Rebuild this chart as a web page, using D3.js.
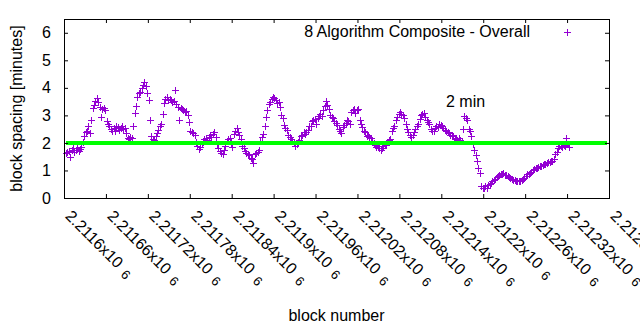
<!DOCTYPE html>
<html lang="en">
<head>
    <meta charset="utf-8" />
    <title>Block Spacing</title>
    <script src="https://d3js.org/d3.v7.min.js"></script>
    <style>
        body {
            margin: 0;
            background-color: white;
        }
        /* Text font, color, size */
        text {
            font-family: 'Liberation Sans', Arial, sans-serif;
            font-size: 16px;
            fill: black;
        }
    </style>
</head>
<body>
    <script>

        // Block numbers of the samples: first block and step between samples
        const firstBlock = 2211603;
        const blockStep = 2;

        // Average block spacing in minutes, one value per sample
        const spacing = [
            1.62, 1.66, 1.72, 1.48, 1.74, 1.80, 1.68, 1.75, 1.80, 1.72, 1.78, 1.85, 2.02, 2.25, 2.40,
            2.45, 2.60, 2.35, 2.85, 3.28, 3.38, 3.52, 3.62, 3.48, 3.32, 2.95, 3.22, 3.28, 3.18, 2.80,
            2.70, 2.62, 2.50, 2.42, 2.55, 2.45, 2.62, 2.58, 2.48, 2.55, 2.62, 2.50, 2.55, 2.35, 2.18,
            2.15, 2.22, 2.18, 2.62, 3.10, 3.35, 3.65, 3.80, 3.85, 4.00, 4.12, 4.22, 4.05, 3.80, 3.55,
            2.85, 2.25, 2.15, 2.12, 2.25, 2.35, 2.48, 2.62, 2.70, 3.05, 3.45, 3.58, 3.65, 3.55, 3.60,
            3.55, 3.48, 3.52, 3.92, 3.40, 3.32, 2.85, 3.28, 3.25, 3.18, 3.12, 3.15, 3.00, 2.75, 2.45,
            2.40, 2.35, 2.30, 2.05, 1.90, 1.78, 1.85, 1.95, 2.05, 2.15, 2.18, 2.10, 2.22, 2.28, 2.20,
            2.32, 2.40, 2.22, 1.95, 1.82, 1.70, 1.62, 1.58, 1.75, 1.90, 2.08, 2.15, 2.18, 2.00, 1.85,
            2.32, 2.45, 2.55, 2.40, 2.30, 2.15, 1.90, 1.80, 1.72, 1.65, 1.60, 1.55, 1.45, 1.40, 1.27,
            1.60, 1.65, 1.68, 1.75, 2.08, 2.20, 2.32, 2.62, 2.95, 3.20, 3.40, 3.50, 3.58, 3.65, 3.62,
            3.55, 3.45, 3.50, 3.30, 3.00, 2.90, 2.65, 2.55, 2.48, 2.30, 2.20, 2.15, 2.08, 1.98, 1.90,
            1.95, 2.05, 2.12, 2.25, 2.30, 2.38, 2.32, 2.40, 2.48, 2.60, 2.62, 2.78, 2.82, 2.88, 2.70,
            2.92, 2.98, 3.05, 2.98, 3.20, 3.35, 3.52, 3.38, 3.25, 3.02, 2.95, 2.92, 2.80, 2.72, 2.65,
            2.50, 2.42, 2.35, 2.58, 2.65, 2.72, 2.85, 2.78, 2.70, 3.12, 3.20, 3.22, 3.10, 3.18, 3.25,
            2.82, 2.70, 2.58, 2.45, 2.38, 2.25, 2.30, 2.22, 2.18, 2.02, 1.98, 1.92, 1.85, 1.88, 1.80,
            1.76, 1.82, 1.88, 1.95, 1.92, 2.05, 2.12, 2.15, 2.42, 2.55, 2.62, 2.82, 2.95, 3.05, 3.12,
            3.05, 3.00, 2.92, 2.70, 2.52, 2.40, 2.30, 2.22, 2.28, 2.38, 2.50, 2.62, 2.70, 2.88, 3.02,
            3.05, 3.08, 2.95, 2.82, 2.75, 2.68, 2.50, 2.45, 2.42, 2.55, 2.62, 2.58, 2.70, 2.65, 2.60,
            2.55, 2.48, 2.42, 2.38, 2.35, 2.30, 2.28, 2.25, 2.15, 2.18, 2.12, 2.18, 2.10, 2.08, 2.50,
            2.98, 2.92, 2.85, 2.50, 2.45, 2.25, 1.95, 1.75, 1.55, 1.35, 1.10, 0.92, 0.42, 0.38, 0.36,
            0.42, 0.38, 0.46, 0.50, 0.55, 0.62, 0.66, 0.70, 0.78, 0.80, 0.84, 0.86, 0.88, 0.90, 0.85,
            0.84, 0.80, 0.76, 0.72, 0.70, 0.66, 0.64, 0.62, 0.60, 0.62, 0.63, 0.66, 0.68, 0.72, 0.80,
            0.86, 0.88, 0.92, 0.96, 1.02, 1.06, 1.10, 1.08, 1.12, 1.16, 1.15, 1.20, 1.22, 1.25, 1.28,
            1.30, 1.32, 1.33, 1.36, 1.40, 1.58, 1.68, 1.82, 1.88, 1.90, 1.86, 1.92, 1.88, 2.18, 1.95, 1.85
        ];

        // Axis ticks and labels
        const xTicks = [2211600, 2211660, 2211720, 2211780, 2211840, 2211900, 2211960,
            2212020, 2212080, 2212140, 2212200, 2212260, 2212320, 2212380];
        const xTickLabels = ["2.2116", "2.21166", "2.21172", "2.21178", "2.21184", "2.2119", "2.21196",
            "2.21202", "2.21208", "2.21214", "2.2122", "2.21226", "2.21232", "2.21238"];
        const yTicks = [0, 1, 2, 3, 4, 5, 6];

        // Target spacing line
        const target = 2;
        const targetLabel = "2 min";
        const seriesName = "8 Algorithm Composite - Overall";

        const points = spacing.map((v, i) => ({ block: firstBlock + i * blockStep, value: v }));

        // Initialize SVG container with dimensions
        const svgWidth = 640;
        const svgHeight = 330;
        const plot = { left: 64, right: 609, top: 19, bottom: 198 };
        const purple = "#9400d3";

        const svg = d3.select("body")
            .append("svg")
            .attr("width", svgWidth)
            .attr("height", svgHeight)
            .style("background-color", "white");

        const xScale = d3.scaleLinear()
            .domain([xTicks[0], xTicks[xTicks.length - 1]])
            .range([plot.left, plot.right]);

        const yScale = d3.scaleLinear()
            .domain([0, 6.5])
            .range([plot.bottom, plot.top]);

        // Data points drawn as small plus signs
        const cross = (cx, cy, r) => {
            const px = Math.round(cx) + 0.5;
            const py = Math.round(cy) + 0.5;
            return `M${px - r},${py}h${2 * r}M${px},${py - r}v${2 * r}`;
        };

        svg.append("g")
            .selectAll("path")
            .data(points)
            .enter()
            .append("path")
            .attr("d", d => cross(xScale(d.block), yScale(d.value), 3.5))
            .attr("fill", "none")
            .attr("stroke", purple)
            .attr("stroke-width", 1)
            .attr("shape-rendering", "crispEdges");

        // Target line across the plot
        svg.append("line")
            .attr("x1", xScale.range()[0] + 2)
            .attr("x2", xScale.range()[1] - 2)
            .attr("y1", yScale(target))
            .attr("y2", yScale(target))
            .attr("stroke", "#00ff00")
            .attr("stroke-width", 4);

        // Inward ticks on all four sides
        const tickLen = -4;
        const yLeft = svg.append("g")
            .attr("transform", `translate(${plot.left},0)`)
            .call(d3.axisLeft(yScale).tickValues(yTicks).tickSize(tickLen).tickPadding(13).tickFormat(d3.format("d")));
        svg.append("g")
            .attr("transform", `translate(${plot.right},0)`)
            .call(d3.axisRight(yScale).tickValues(yTicks).tickSize(tickLen).tickFormat(""));
        const xBottom = svg.append("g")
            .attr("transform", `translate(0,${plot.bottom})`)
            .call(d3.axisBottom(xScale).tickValues(xTicks).tickSize(tickLen).tickFormat(""));
        svg.append("g")
            .attr("transform", `translate(0,${plot.top})`)
            .call(d3.axisTop(xScale).tickValues(xTicks).tickSize(tickLen).tickFormat(""));

        svg.selectAll(".domain").remove();
        svg.selectAll(".tick line").attr("stroke", "black");
        yLeft.selectAll("text")
            .style("font-family", "'Liberation Sans', Arial, sans-serif")
            .style("font-size", "16px")
            .attr("fill", "black");

        // Rotated x tick labels with a power of ten
        const xLabel = xBottom.selectAll(".tick")
            .append("text")
            .attr("transform", "translate(0,19) rotate(45)")
            .attr("text-anchor", "start")
            .style("font-family", "'Liberation Sans', Arial, sans-serif")
            .style("font-size", "16px")
            .attr("fill", "black");
        xLabel.append("tspan").text((d, i) => xTickLabels[i] + "x10");
        xLabel.append("tspan")
            .attr("dx", 7)
            .attr("dy", 2)
            .style("font-size", "13px")
            .text("6");

        // Plot border
        svg.append("rect")
            .attr("x", plot.left + 0.5)
            .attr("y", plot.top + 0.5)
            .attr("width", plot.right - plot.left)
            .attr("height", plot.bottom - plot.top)
            .attr("fill", "none")
            .attr("stroke", "black")
            .attr("stroke-width", 1);

        // Axis titles
        svg.append("text")
            .attr("x", (plot.left + plot.right) / 2)
            .attr("y", 321)
            .attr("text-anchor", "middle")
            .text("block number");

        svg.append("text")
            .attr("transform", `translate(22,${(plot.top + plot.bottom) / 2}) rotate(-90)`)
            .attr("text-anchor", "middle")
            .text("block spacing [minutes]");

        // Legend entry
        svg.append("text")
            .attr("x", 530)
            .attr("y", 37)
            .attr("text-anchor", "end")
            .text(seriesName);
        svg.append("path")
            .attr("d", cross(567, 32, 3.5))
            .attr("stroke", purple)
            .attr("stroke-width", 1)
            .attr("shape-rendering", "crispEdges");

        // Label for the target line
        svg.append("text")
            .attr("x", 446)
            .attr("y", 107)
            .text(targetLabel);

    </script>
</body>
</html>
